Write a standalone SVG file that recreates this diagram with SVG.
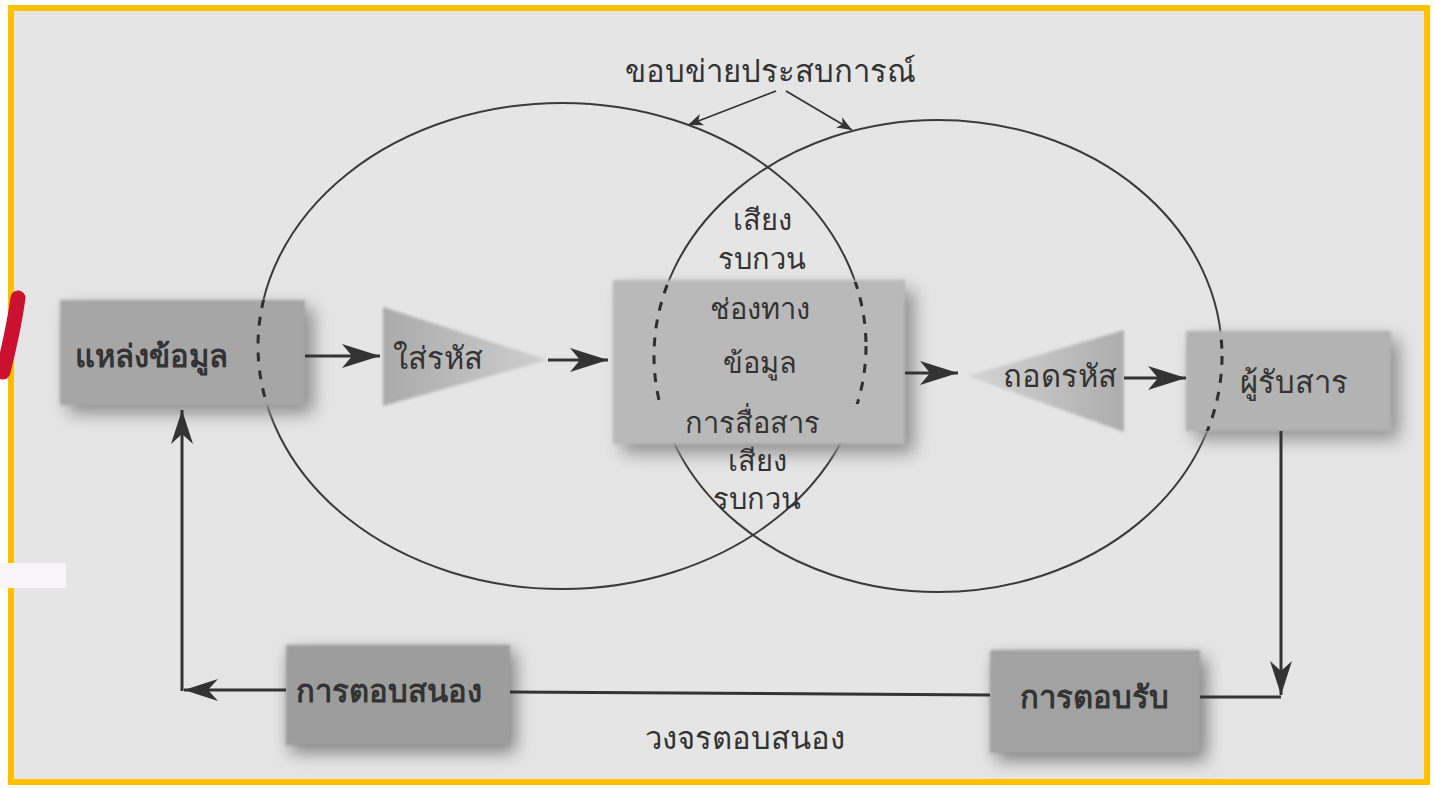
<svg xmlns="http://www.w3.org/2000/svg" width="1435" height="788" viewBox="0 0 1435 788">
<defs>
<style>
.t{font-family:"Noto Sans","DejaVu Sans","Liberation Sans",sans-serif;fill:#333;font-size:31px}
.c{font-size:29px}
.m{text-anchor:middle}
.ell{fill:none;stroke:#3a3a3a;stroke-width:2}
.dash{fill:none;stroke:#2e2e2e;stroke-width:3;stroke-dasharray:9 9}
.ln{fill:none;stroke:#333;stroke-width:3}
.thin{fill:none;stroke:#333;stroke-width:1.8}
</style>
<filter id="blur" x="-30%" y="-30%" width="160%" height="160%"><feGaussianBlur stdDeviation="9"/></filter>
<filter id="soft" x="-10%" y="-10%" width="120%" height="120%"><feGaussianBlur stdDeviation="1.5"/></filter>
<linearGradient id="gEnc" x1="0" y1="0" x2="1" y2="0"><stop offset="0" stop-color="#aaa"/><stop offset="1" stop-color="#cfcfcf"/></linearGradient>
<linearGradient id="gDec" x1="0" y1="0" x2="1" y2="0"><stop offset="0" stop-color="#d4d4d4"/><stop offset="1" stop-color="#adadad"/></linearGradient>
<marker id="big" viewBox="-40 -14 42 28" refX="0" refY="0" markerWidth="42" markerHeight="28" markerUnits="userSpaceOnUse" orient="auto"><path d="M0,0 L-38,-12 L-28,0 L-38,12 Z" fill="#333"/></marker>
<marker id="mid" viewBox="-36 -12 38 24" refX="0" refY="0" markerWidth="38" markerHeight="24" markerUnits="userSpaceOnUse" orient="auto"><path d="M0,0 L-34,-11 L-24,0 L-34,11 Z" fill="#333"/></marker>
<marker id="sm" viewBox="-16 -8 18 16" refX="0" refY="0" markerWidth="18" markerHeight="16" markerUnits="userSpaceOnUse" orient="auto"><path d="M0,0 L-15,-6 L-11,0 L-15,6 Z" fill="#333"/></marker>
<clipPath id="cSrc"><rect x="60" y="300" width="245" height="105"/></clipPath>
<clipPath id="cMid"><rect x="613" y="282" width="292" height="122"/></clipPath>
<clipPath id="cRcv"><rect x="1186" y="331" width="205" height="100"/></clipPath>
</defs>

<rect x="0" y="0" width="1435" height="788" fill="#ffffff"/>
<rect x="11" y="8" width="1416" height="774" fill="#e5e5e5"/>

<!-- experience circles -->
<g id="circles">
<ellipse class="ell" cx="562" cy="346" rx="304" ry="243"/>
<ellipse class="ell" cx="938" cy="356" rx="284" ry="236"/>
</g>

<!-- source -->
<g id="source">
<rect x="68" y="308" width="245" height="105" fill="#8a8a8a" filter="url(#blur)"/>
<rect x="60" y="300" width="245" height="105" fill="#a6a6a6" filter="url(#soft)"/>
<g clip-path="url(#cSrc)"><ellipse class="dash" cx="562" cy="346" rx="304" ry="243"/></g>
<text class="t" x="75" y="367" font-size="35" font-weight="bold" fill="#3a3a3a">แหล่งข้อมูล</text>
</g>

<!-- encode -->
<g id="encode">
<path d="M383,307 L548,360 L383,406 Z" fill="url(#gEnc)" filter="url(#soft)"/>
<text class="t" x="393" y="369" font-size="30">ใส่รหัส</text>
</g>

<!-- channel -->
<g id="channel">
<rect x="622" y="290" width="292" height="163" fill="#8e8e8e" filter="url(#blur)"/>
<rect x="613" y="280" width="292" height="164" fill="#b9b9b9" filter="url(#soft)"/>
<g clip-path="url(#cMid)">
<ellipse class="dash" cx="562" cy="346" rx="304" ry="243"/>
<ellipse class="dash" cx="938" cy="356" rx="284" ry="236"/>
</g>
<text class="t c m" x="762" y="230">เสียง</text>
<text class="t c m" x="762" y="269">รบกวน</text>
<text class="t c m" x="760" y="319">ช่องทาง</text>
<text class="t c m" x="760" y="373">ข้อมูล</text>
<text class="t c m" x="752" y="433">การสื่อสาร</text>
<text class="t c m" x="757" y="471">เสียง</text>
<text class="t c m" x="757" y="509">รบกวน</text>
</g>

<!-- decode -->
<g id="decode">
<path d="M1124,330 L968,376 L1124,432 Z" fill="url(#gDec)" filter="url(#soft)"/>
<text class="t" x="1003" y="387" font-size="27">ถอดรหัส</text>
</g>

<!-- receiver -->
<g id="receiver">
<rect x="1194" y="339" width="205" height="100" fill="#8e8e8e" filter="url(#blur)"/>
<rect x="1186" y="331" width="205" height="100" fill="#b3b3b3" filter="url(#soft)"/>
<g clip-path="url(#cRcv)"><ellipse class="dash" cx="938" cy="356" rx="284" ry="236"/></g>
<text class="t" x="1240" y="393" font-size="32">ผู้รับสาร</text>
</g>

<!-- response -->
<g id="response">
<rect x="290" y="652" width="225" height="100" fill="#7c7c7c" filter="url(#blur)"/>
<rect x="286" y="645" width="224" height="100" fill="#9d9d9d" filter="url(#soft)"/>
<text class="t" x="296" y="702" font-size="34" font-weight="bold" fill="#333">การตอบสนอง</text>
</g>

<!-- acknowledgement -->
<g id="ack">
<rect x="996" y="658" width="210" height="102" fill="#7c7c7c" filter="url(#blur)"/>
<rect x="990" y="650" width="210" height="103" fill="#a2a2a2" filter="url(#soft)"/>
<text class="t" x="1020" y="708" font-size="32" font-weight="bold" fill="#333">การตอบรับ</text>
</g>

<!-- connectors -->
<g id="connectors">
<line class="ln" x1="305" y1="356" x2="380" y2="356" marker-end="url(#big)"/>
<line class="ln" x1="548" y1="360" x2="608" y2="360" marker-end="url(#big)"/>
<line class="ln" x1="905" y1="373" x2="958" y2="373" marker-end="url(#big)"/>
<line class="ln" x1="1124" y1="378" x2="1186" y2="378" marker-end="url(#big)"/>
<line class="ln" x1="1281" y1="431" x2="1281" y2="695" marker-end="url(#mid)"/>
<line class="ln" x1="1281" y1="697" x2="1200" y2="697"/>
<line class="ln" x1="990" y1="695" x2="510" y2="692"/>
<line class="ln" x1="286" y1="690" x2="184" y2="690" marker-end="url(#mid)"/>
<line class="ln" x1="182" y1="691" x2="182" y2="410" marker-end="url(#mid)"/>
<line class="thin" x1="776" y1="91" x2="688" y2="125" marker-end="url(#sm)"/>
<line class="thin" x1="786" y1="91" x2="852" y2="130" marker-end="url(#sm)"/>
</g>

<text class="t m" x="770" y="82" font-size="31">ขอบข่ายประสบการณ์</text>
<text class="t m" x="745" y="749" font-size="31">วงจรตอบสนอง</text>

<!-- photo frame -->
<rect x="11" y="8" width="1416" height="774" fill="none" stroke="#ffc000" stroke-width="6"/>
<rect x="0" y="563" width="66" height="25" fill="#f7f5f7"/>
<path d="M18,298 C15,320 9,348 3,372" fill="none" stroke="#cc1030" stroke-width="15" stroke-linecap="round"/>
</svg>
